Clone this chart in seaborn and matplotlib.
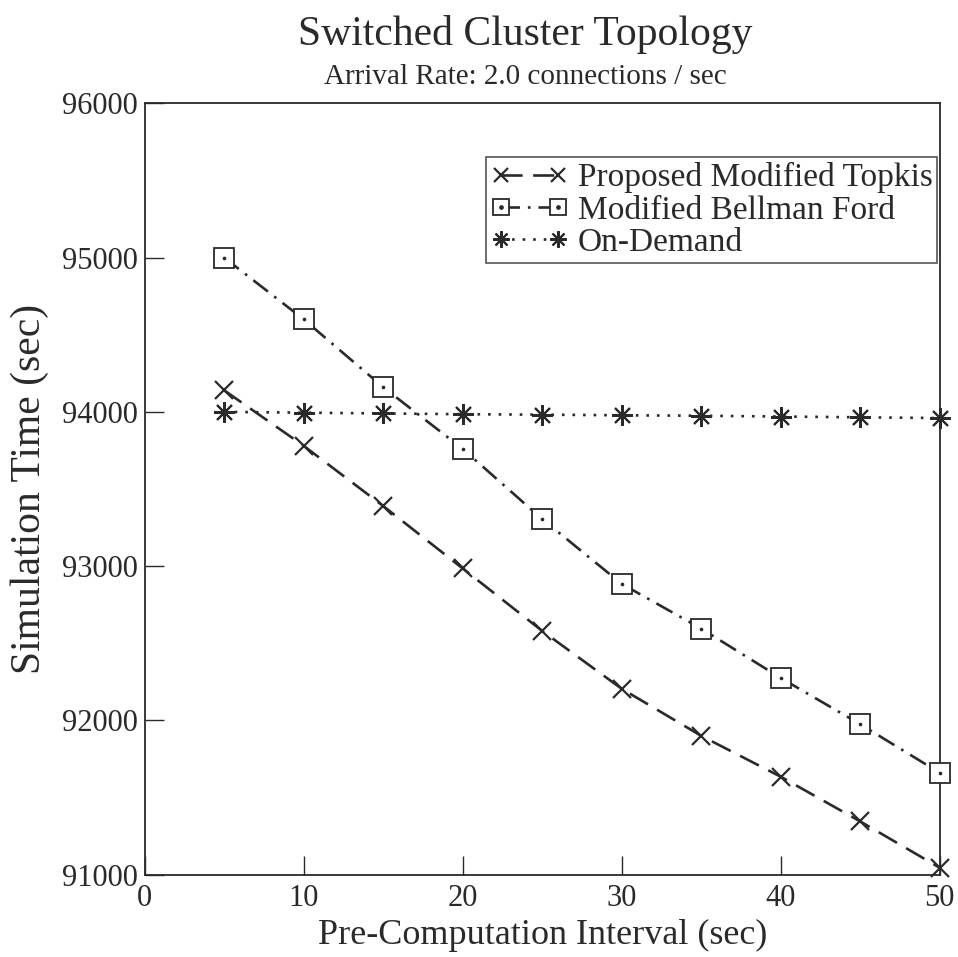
import numpy as np
import pandas as pd
import matplotlib
matplotlib.use("Agg")
import matplotlib.pyplot as plt
import seaborn as sns
from matplotlib.lines import Line2D
from matplotlib.ticker import MultipleLocator
from matplotlib.legend_handler import HandlerTuple

# Pre-computation interval (sec)
interval = [5, 10, 15, 20, 25, 30, 35, 40, 45, 50]

# Simulation time (sec) for each scheme
topkis = [94140, 93780, 93390, 92985, 92580, 92205, 91900, 91635, 91345, 91045]
bellman = [95000, 94600, 94160, 93760, 93305, 92885, 92595, 92275, 91975, 91660]
on_demand = [94000, 93995, 93990, 93985, 93982, 93978, 93975, 93970, 93965, 93960]

series_names = ["Proposed Modified Topkis", "Modified Bellman Ford", "On-Demand"]

df = pd.DataFrame({
    "interval": interval * 3,
    "time": topkis + bellman + on_demand,
    "scheme": [series_names[0]] * 10 + [series_names[1]] * 10 + [series_names[2]] * 10,
})

sns.set_theme(style="white")
plt.rcParams["font.family"] = ["Liberation Serif", "DejaVu Serif"]

fig = plt.figure(figsize=(9.58, 9.57), dpi=100)
ax = fig.add_axes([0.151, 0.086, 0.830, 0.806])

ink = "#2a2a2a"
lw = 1.9

styles = {
    series_names[0]: dict(linestyle=(0, (8, 4)), marker="x", markersize=13, mew=1.6),
    series_names[1]: dict(linestyle=(0, (7, 3, 1, 3)), marker="s", markersize=14.5,
                          mew=1.3, markerfacecolor="white"),
    series_names[2]: dict(linestyle=(0, (1, 3)), marker=(8, 2, 0), markersize=15, mew=1.5),
}

for name in series_names:
    sub = df[df["scheme"] == name]
    st = styles[name]
    sns.lineplot(data=sub, x="interval", y="time", ax=ax, color=ink, linewidth=lw,
                 linestyle=st["linestyle"], marker=st["marker"], markersize=st["markersize"],
                 markeredgewidth=st["mew"], markeredgecolor=ink,
                 markerfacecolor=st.get("markerfacecolor", ink), legend=False,
                 zorder=3, clip_on=False)
    if name == series_names[1]:
        # dot in the centre of each square marker
        ax.scatter(sub["interval"], sub["time"], s=7, color=ink, zorder=4,
                   linewidths=0, clip_on=False)

ax.set_xlim(0, 50)
ax.set_ylim(91000, 96000)
ax.xaxis.set_major_locator(MultipleLocator(10))
ax.xaxis.set_minor_locator(MultipleLocator(5))
ax.yaxis.set_major_locator(MultipleLocator(1000))
ax.yaxis.set_minor_locator(MultipleLocator(500))
ax.tick_params(axis="both", which="major", direction="in", length=14, width=1.0,
               colors=ink, labelsize=22)
ax.tick_params(axis="x", which="major", pad=7)
ax.tick_params(axis="y", which="major", pad=5)
ax.tick_params(axis="both", which="minor", direction="in", length=7, width=1.0, colors=ink)
ax.tick_params(top=False, right=False, left=True, bottom=True)

for sp in ax.spines.values():
    sp.set_color(ink)
    sp.set_linewidth(1.3)

ax.set_xlabel("Pre-Computation Interval (sec)", fontsize=26, color=ink, labelpad=4)
ax.set_ylabel("Simulation Time (sec)", fontsize=30, color=ink, labelpad=9)

fig.text(0.548, 0.964, "Switched Cluster Topology", ha="center", va="center",
         fontsize=30, color=ink)
fig.text(0.548, 0.920, "Arrival Rate: 2.0 connections / sec", ha="center", va="center",
         fontsize=21, color=ink)

# Legend handles: marker, line segment, marker
handles = []
for name in series_names:
    st = styles[name]
    h = Line2D([0], [0], color=ink, linewidth=lw, linestyle=st["linestyle"],
               marker=st["marker"], markersize=st["markersize"] * 0.8,
               markeredgewidth=st["mew"], markeredgecolor=ink,
               markerfacecolor=st.get("markerfacecolor", ink))
    handles.append(h)
dot = Line2D([0], [0], linestyle="none", marker="o", markersize=2.4, color=ink)
handles[1] = (handles[1], dot)

leg = ax.legend(handles, series_names, loc="upper right", bbox_to_anchor=(0.997, 0.93),
                fontsize=24, frameon=True, fancybox=False, handlelength=2.3,
                handletextpad=0.3, borderpad=0.15, labelspacing=0.05,
                borderaxespad=0.0, numpoints=2,
                handler_map={tuple: HandlerTuple(ndivide=1, pad=0)})
leg.get_frame().set_edgecolor(ink)
leg.get_frame().set_linewidth(1.2)
for t in leg.get_texts():
    t.set_color(ink)

fig.savefig("out.png", dpi=100, facecolor="white")
